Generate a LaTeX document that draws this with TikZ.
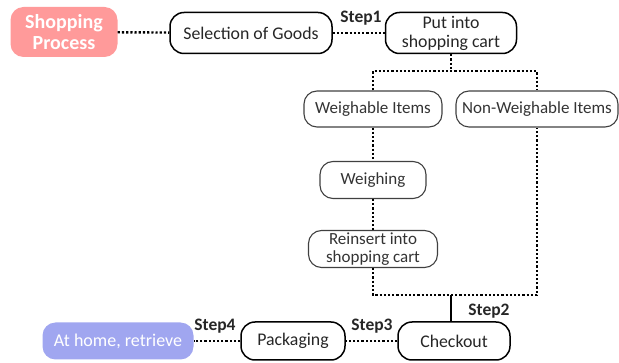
\documentclass[tikz,border=0pt]{standalone}
\usepackage{fontspec}
\setmainfont{Carlito}
\begin{document}
\begin{tikzpicture}[x=1pt,y=-1pt,
  box/.style={draw=black,line width=1.5pt,rounded corners=14pt,align=center,font=\fontsize{17.8}{17.8}\selectfont,text=black!85,inner sep=0pt},
  sbox/.style={draw=black!75,line width=1.1pt,rounded corners=13pt,align=center,font=\fontsize{17}{17}\selectfont,text=black!80,inner sep=0pt},
  cbox/.style={rounded corners=13pt,align=center,text=white,inner sep=0pt},
  dl/.style={line width=2.4pt,dash pattern=on 2.2pt off 2pt},
  steplab/.style={font=\bfseries\fontsize{17.5}{17.5}\selectfont,text=black!85,inner sep=0pt}]
\useasboundingbox (0,0) rectangle (619,363);
\node[cbox,fill={rgb,255:red,255;green,154;blue,154},minimum width=107pt,minimum height=50pt,font=\bfseries\fontsize{20}{21}\selectfont] (sp) at (64,32) {Shopping\\Process};
\node[box,minimum width=162pt,minimum height=41pt] (sel) at (251,33) {Selection of Goods};
\node[box,minimum width=131pt,minimum height=41pt,font=\fontsize{17.8}{19}\selectfont] (put) at (451,33) {Put into\\shopping cart};
\node[sbox,minimum width=138pt,minimum height=36pt] (wi) at (373,109) {Weighable Items};
\node[sbox,minimum width=162pt,minimum height=36pt] (nw) at (537,109) {Non-Weighable Items};
\node[sbox,minimum width=106pt,minimum height=37pt] (wg) at (373,180) {Weighing};
\node[sbox,minimum width=129pt,minimum height=37pt,font=\fontsize{17}{17.5}\selectfont] (re) at (373,249) {Reinsert into\\shopping cart};
\node[box,minimum width=112pt,minimum height=38pt] (co) at (454,341) {Checkout};
\node[box,minimum width=104pt,minimum height=38pt] (pk) at (293,341) {Packaging};
\node[cbox,fill={rgb,255:red,160;green,166;blue,240},minimum width=151pt,minimum height=37pt,font=\fontsize{18}{18}\selectfont] (ah) at (118,341) {At home, retrieve};
\coordinate (j1) at (451,71);
\coordinate (j2) at (451,295);
\draw[dl] (sp) -- (sel);
\draw[dl] (sel) -- (put);
\draw[dl] (put.south) -- (j1);
\draw[dl] (wi.north) |- (j1) -| (nw.north);
\draw[dl] (wi) -- (wg);
\draw[dl] (wg) -- (re);
\draw[dl] (re.south) |- (j2) -| (nw.south);
\draw[line width=1.5pt] (j2) -- (co.north -| j2);
\draw[dl] (co) -- (pk);
\draw[dl] (pk) -- (ah);
\node[steplab] (s1) at (361,18) {Step1};
\node[steplab] (s2) at (489,311) {Step2};
\node[steplab] (s3) at (372,326) {Step3};
\node[steplab] (s4) at (215,326) {Step4};
\end{tikzpicture}
\end{document}
